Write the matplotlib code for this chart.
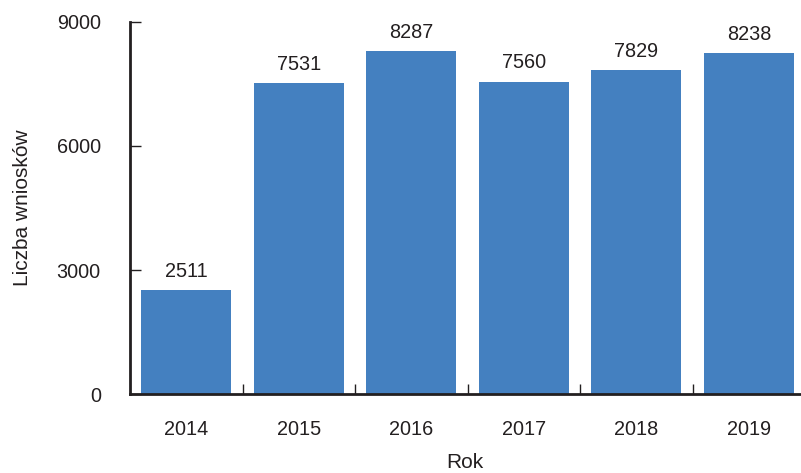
import matplotlib.pyplot as plt
from matplotlib.ticker import FixedLocator

plt.rcParams['font.family'] = ['Liberation Sans', 'DejaVu Sans']

years = ['2014', '2015', '2016', '2017', '2018', '2019']
counts = [2511, 7531, 8287, 7560, 7829, 8238]

text_color = '#231f20'
bar_color = '#4480c0'
fs = 14.3
label_fs = 15

fig = plt.figure(figsize=(8.01, 4.73), dpi=100)
ax = fig.add_axes([0.1623, 0.167, 0.836, 0.7865])

x = range(len(years))
bars = ax.bar(x, counts, width=0.8, color=bar_color)

for i, v in enumerate(counts):
    ax.text(i, v + 220, str(v), ha='center', va='bottom', fontsize=fs, color=text_color)

ax.set_xlim(-0.5, 5.45)
ax.set_ylim(0, 9000)
ax.set_yticks([0, 3000, 6000, 9000])
ax.set_xticks(list(x))
ax.set_xticklabels(years)
ax.xaxis.set_minor_locator(FixedLocator([0.5, 1.5, 2.5, 3.5, 4.5]))

ax.tick_params(axis='x', which='major', length=0, pad=19, labelsize=fs, labelcolor=text_color)
ax.tick_params(axis='x', which='minor', direction='in', length=7, width=1, color=text_color)
ax.tick_params(axis='y', direction='in', length=8, width=1, pad=21, labelsize=fs,
               labelcolor=text_color, color=text_color)

for side in ['top', 'right']:
    ax.spines[side].set_visible(False)
for side in ['left', 'bottom']:
    ax.spines[side].set_linewidth(2)
    ax.spines[side].set_color(text_color)

ax.set_xlabel('Rok', fontsize=label_fs, color=text_color, labelpad=10)
ax.set_ylabel('Liczba wniosków', fontsize=label_fs, color=text_color, labelpad=18)

fig.savefig('out.png', dpi=100)
